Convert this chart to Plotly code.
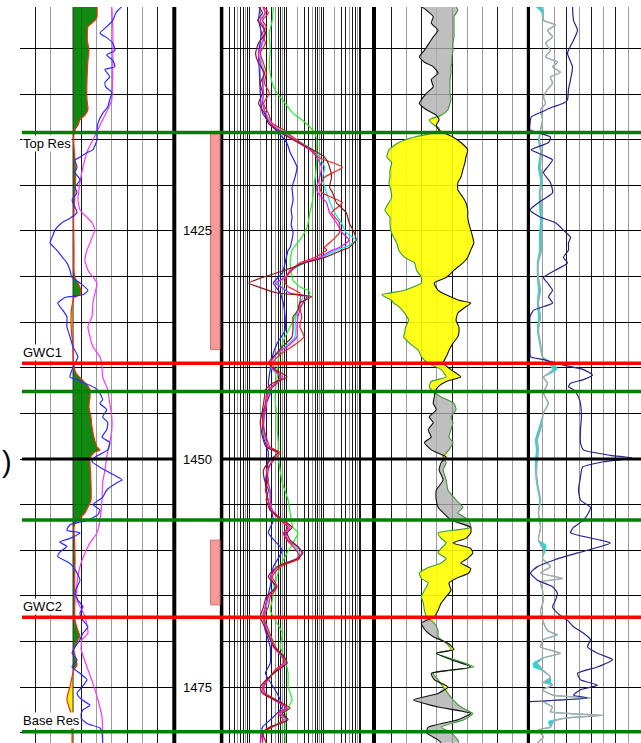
import numpy as np
import plotly.graph_objects as go

W, H = 641, 743
TOP, BASE = 1400.44, 1481.14
GRID_DEPTHS = list(range(1405, 1481, 5))
DEPTH_LABELS = [1425, 1450, 1475]

# formation tops / contacts
MARKER_DEPTH = [1414.2, 1439.5, 1442.6, 1456.7, 1467.35, 1479.9]
MARKER_COLOR = ["#008000", "#ff0000", "#008000", "#008000", "#ff0000", "#008000"]
MARKER_LABEL = ["Top Res", "GWC1", "", "", "GWC2", "Base Res"]
LABEL_BELOW = [True, False, False, False, False, False]

# perforated intervals
PERF_TOP = [1414.35, 1458.9]
PERF_BASE = [1438.0, 1466.0]

# ---------------- track 1 (API) ----------------
VCL_CUTOFF = 52.0
VCL_DEPTH = [1400.4, 1401.5, 1401.9, 1402.2, 1402.6, 1404.1, 1405.2, 1406.3, 1408.4, 1409.5,
             1410.6, 1411.7, 1412.3, 1412.8, 1413.4, 1413.9, 1415.0, 1417.2, 1419.4, 1421.6,
             1423.8, 1427.1, 1429.3, 1430.1, 1430.7, 1431.5, 1432.0, 1432.3, 1432.9, 1433.7,
             1434.8, 1436.2, 1437.0, 1438.1, 1439.1, 1439.9, 1440.6, 1441.3, 1441.9, 1442.4,
             1443.2, 1444.3, 1445.4, 1446.5, 1447.6, 1448.7, 1449.0, 1449.3, 1449.9, 1450.4,
             1452.6, 1454.5, 1455.3, 1455.9, 1456.5, 1456.9, 1457.5, 1458.9, 1461.1, 1463.3,
             1465.5, 1467.3, 1468.2, 1468.8, 1469.5, 1469.8, 1470.9, 1472.0, 1472.6, 1473.1,
             1473.9, 1475.0, 1475.7, 1476.4, 1477.2, 1477.9, 1478.6, 1480.0, 1481.1]
VCL_VALUE = [75.5, 75.5, 73.5, 70.6, 66.6, 66.0, 67.6, 66.6, 65.7, 65.5,
             65.7, 66.6, 63.7, 58.8, 56.8, 53.9, 52.6, 53.9, 54.5, 53.5,
             52.6, 52.9, 52.9, 53.9, 56.8, 59.8, 58.8, 52.9, 51.5, 50.3,
             50.0, 50.5, 51.5, 52.0, 52.4, 52.9, 54.9, 60.8, 65.7, 68.6,
             68.6, 67.6, 69.6, 70.6, 72.5, 75.5, 78.4, 72.5, 68.6, 68.6,
             69.6, 69.6, 66.6, 63.7, 58.8, 54.9, 52.9, 53.5, 54.0, 53.5,
             53.9, 53.5, 55.0, 56.8, 58.8, 56.8, 52.9, 54.9, 55.9, 52.9,
             51.0, 49.0, 47.0, 46.0, 48.0, 50.0, 50.0, 51.0, 51.0]

GR_DEPTH = [1400.4, 1400.8, 1401.1, 1401.9, 1402.6, 1403.3, 1403.8, 1404.4, 1405.2, 1405.7,
            1406.3, 1407.0, 1407.3, 1408.1, 1408.7, 1409.2, 1409.8, 1410.6, 1411.4, 1412.1,
            1413.2, 1413.9, 1415.0, 1416.1, 1416.4, 1416.9, 1417.2, 1418.0, 1418.6, 1419.4,
            1420.2, 1420.8, 1421.6, 1422.4, 1423.0, 1423.6, 1424.1, 1424.9, 1425.7, 1426.3,
            1427.1, 1427.8, 1428.5, 1429.3, 1430.1, 1430.7, 1431.5, 1432.0, 1432.3, 1432.9,
            1433.7, 1434.4, 1435.5, 1436.6, 1437.7, 1438.8, 1439.5, 1440.2, 1441.0, 1441.3,
            1441.7, 1442.2, 1442.8, 1443.5, 1443.9, 1444.6, 1445.4, 1446.0, 1446.8, 1447.6,
            1448.2, 1449.0, 1449.8, 1450.3, 1450.9, 1451.5, 1452.3, 1452.6, 1453.4, 1454.2,
            1455.0, 1455.6, 1456.1, 1456.7, 1457.2, 1457.8, 1458.1, 1458.7, 1459.1, 1459.6,
            1460.2, 1460.7, 1461.3, 1461.8, 1462.5, 1463.3, 1464.0, 1464.7, 1465.5, 1466.2,
            1466.9, 1467.7, 1468.4, 1469.1, 1469.8, 1470.6, 1471.3, 1472.0, 1472.8, 1473.5,
            1474.2, 1475.0, 1475.7, 1476.4, 1477.0, 1477.5, 1478.3, 1479.0, 1479.5, 1480.0,
            1481.1]
GR_VALUE = [100, 96, 94, 91, 85, 78.4, 85, 91, 93, 85,
            91, 93, 83.3, 88, 83.3, 84, 90, 88, 86, 81,
            76.4, 75.5, 75.5, 71.5, 65.7, 58.8, 54, 55.9, 54, 58.8,
            54, 55.9, 51, 54, 55.9, 49, 41, 34.3, 31.4, 29.4,
            36, 41, 46, 49, 51, 58.8, 66.6, 61.7, 44, 37,
            42, 46, 46, 49, 52, 56.8, 54, 51, 49, 55.9,
            63.7, 73.5, 78.4, 81, 78.4, 85, 81, 86, 85, 80.4,
            88, 86, 73.5, 70.6, 78.4, 88, 100, 95, 85, 81,
            71.5, 78.4, 76.4, 66.6, 49, 46, 58.8, 49, 39, 46,
            39, 37, 47, 52, 55.9, 58.8, 55.9, 54, 56.8, 61.7,
            58.8, 61.7, 66.6, 61.7, 58.8, 54, 51, 55.9, 51, 58.8,
            65.7, 60.8, 55.9, 60.8, 68.6, 61.7, 58.8, 65.7, 78.4, 80.4,
            81]

SGR_DEPTH = [1400.4, 1403.0, 1406.3, 1409.5, 1410.6, 1411.7, 1412.8, 1413.9, 1415.0, 1416.1,
             1418.0, 1419.7, 1421.6, 1422.7, 1423.5, 1424.1, 1424.9, 1425.7, 1426.3, 1427.1,
             1428.2, 1429.3, 1430.7, 1431.8, 1432.9, 1434.4, 1435.5, 1436.6, 1437.7, 1438.8,
             1439.9, 1441.0, 1442.4, 1443.9, 1445.4, 1446.8, 1448.2, 1449.8, 1451.2, 1452.6,
             1454.5, 1456.7, 1458.1, 1459.2, 1460.3, 1461.8, 1463.6, 1465.5, 1466.6, 1467.3,
             1469.1, 1469.8, 1470.9, 1472.8, 1474.6, 1476.4, 1478.3, 1480.0, 1481.1]
SGR_VALUE = [90, 91, 91, 90.5, 90, 86, 81, 76.4, 71.5, 66.6,
             61.7, 58.8, 56.8, 58.8, 65.7, 70.6, 73.5, 70.6, 68.6, 65.7,
             63.7, 66.6, 75.5, 73.5, 71.5, 70.6, 66.6, 68.6, 71.5, 78.4,
             80.4, 81, 86, 88, 90, 90, 88, 85, 83.3, 81,
             80.4, 78.4, 75.5, 68.6, 63.7, 58.8, 55.9, 55.9, 60.8, 63.7,
             66.6, 60.8, 60, 65.7, 71.5, 76.4, 80.4, 81, 81]

# ---------------- track 3 (resistivity, ohm.m) ----------------
RES_DEPTH = [1400.4, 1401.1, 1401.9, 1402.6, 1403.3, 1404.4, 1405.5, 1406.6, 1407.7, 1408.8,
             1409.9, 1411.0, 1412.1, 1413.2, 1413.9, 1414.7, 1415.4, 1416.1, 1416.9, 1418.0,
             1419.1, 1420.2, 1420.8, 1421.9, 1423.0, 1424.1, 1425.2, 1426.0, 1426.8, 1427.1,
             1427.9, 1428.5, 1429.3, 1430.1, 1430.7, 1431.1, 1431.8, 1432.2, 1432.9, 1433.7,
             1434.4, 1435.5, 1436.6, 1437.7, 1438.4, 1439.5, 1440.2, 1441.0, 1441.7, 1442.4,
             1443.2, 1444.6, 1446.0, 1447.6, 1448.7, 1449.3, 1450.1, 1451.2, 1452.3, 1453.4,
             1454.5, 1455.6, 1456.7, 1457.5, 1458.1, 1458.9, 1459.6, 1460.3, 1460.9, 1461.8,
             1462.9, 1464.0, 1465.1, 1466.2, 1467.3, 1468.4, 1469.8, 1470.6, 1471.7, 1472.4,
             1473.1, 1474.2, 1475.0, 1475.7, 1476.8, 1477.3, 1477.9, 1478.6, 1479.4, 1480.0,
             1481.1]
RES_MAGENTA = [2.3, 2.75, 2.0, 2.45, 2.75, 2.3, 1.8, 2.0, 2.45, 2.3,
               2.45, 2.3, 2.75, 3.7, 6.1, 12.7, 23, 43, 66, 89,
               79, 66, 70, 121, 145, 222, 320, 490, 267, 174,
               79, 28, 12.7, 9.3, 5.1, 6.9, 12.7, 36, 28, 23,
               20.6, 19.4, 19.4, 10.5, 5.7, 3.7, 4.5, 7.8, 5.7, 3.7,
               3.1, 2.75, 2.45, 2.75, 3.3, 5.7, 4.2, 3.3, 3.1, 3.7,
               3.7, 4.2, 7.8, 12.7, 9.3, 11.2, 19.4, 26, 19.4, 6.1,
               3.7, 5.1, 3.3, 2.75, 2.3, 2.75, 3.7, 4.5, 7.8, 9.3,
               5.7, 3.1, 2.3, 2.45, 6.9, 10.5, 6.9, 10.5, 3.7, 2.3,
               2.0]
RES_RED = [2.45, 3.3, 2.3, 2.9, 2.3, 2.75, 2.0, 2.45, 2.9, 2.6,
           3.5, 2.45, 3.3, 4.2, 8.3, 15, 26, 48, 70, 320,
           107, 79, 89, 320, 164, 267, 267, 174, 107, 121,
           58, 23, 14.3, 10, 9.3, 11.2, 23, 24, 23, 24,
           26, 23, 30, 14, 7.5, 4.2, 5.1, 6.9, 5.1, 3.3,
           2.9, 2.6, 2.3, 2.9, 3.7, 6.9, 4.7, 2.9, 3.3, 2.75,
           3.3, 3.7, 6.9, 11.2, 8.3, 10.5, 15.2, 20.6, 23, 6.9,
           4.2, 5.7, 3.7, 3.3, 2.45, 3.1, 4.2, 5.1, 8.3, 8.3,
           5.1, 3.3, 2.45, 2.75, 7.8, 9.3, 6.1, 8.3, 4.2, 2.45,
           2.3]
RES_BROWN = [1.8, 2.3, 1.7, 2.3, 2.75, 1.8, 1.5, 1.8, 2.6, 2.0,
             2.3, 1.8, 2.6, 3.3, 5.4, 11.2, 23, 51, 107, 145,
             164, 145, 174, 222, 409, 490, 667, 750, 490, 320,
             107, 31.6, 9.3, 2.3, 0.98, 1.7, 5.7, 48, 23, 20.6,
             15.2, 15.2, 14.3, 7.8, 5.5, 3.3, 5.1, 10.5, 4.2, 2.75,
             2.6, 2.3, 2.0, 2.3, 2.9, 6.1, 3.7, 2.45, 2.6, 3.3,
             2.9, 3.7, 8.3, 14.3, 10.5, 12.7, 20.6, 28, 20.6, 5.7,
             3.3, 5.4, 2.9, 2.45, 2.0, 2.6, 3.7, 4.7, 8.8, 10.5,
             6.1, 2.9, 2.0, 2.3, 7.8, 12.7, 7.8, 11.2, 3.7, 2.3,
             2.9]
RES_CYAN = [2.45, 2.6, 2.3, 2.5, 2.6, 2.2, 2.0, 2.2, 2.6, 2.4,
            2.45, 2.3, 2.9, 4.0, 6.9, 14.3, 28, 51, 79, 107,
            95, 107, 120, 150, 200, 300, 409, 750, 362, 222,
            89, 31.6, 14.3, 9.3, 5.7, 7.5, 12, 28, 23, 20,
            18.2, 17.2, 17.2, 9.3, 6, 3.7, 4.2, 6.9, 5.1, 3.3,
            3.0, 2.75, 2.5, 2.6, 3.3, 6.1, 4.2, 3.2, 3.3, 3.5,
            3.7, 4.2, 6.9, 11.2, 9.5, 11.2, 17, 23, 19, 6.1,
            3.8, 4.7, 3.3, 2.9, 2.5, 2.9, 3.9, 4.7, 7.5, 9.3,
            5.7, 3.3, 2.5, 2.6, 7, 10, 7, 9.3, 4, 2.45,
            2.3]

RES_BLUE_DEPTH = [1400.4, 1401.9, 1403.3, 1405.5, 1407.7, 1409.9, 1412.1, 1413.6, 1414.7, 1415.4,
                  1416.4, 1418.0, 1419.1, 1420.2, 1421.6, 1422.7, 1423.5, 1424.3, 1425.2, 1426.8,
                  1427.1, 1428.5, 1429.6, 1430.7, 1431.8, 1432.9, 1434.4, 1435.9, 1437.3, 1438.8,
                  1440.2, 1441.7, 1442.8, 1444.6, 1446.0, 1447.6, 1449.3, 1450.9, 1452.6, 1454.2,
                  1456.7, 1458.1, 1460.0, 1461.8, 1464.0, 1466.2, 1468.4, 1470.6, 1472.4, 1473.5,
                  1475.7, 1477.2, 1478.6, 1479.4, 1481.1]
RES_BLUE = [2.0, 1.8, 2.15, 1.8, 1.9, 2.0, 2.3, 4.5, 7.8, 10.5,
            12.7, 19.4, 17.2, 14.3, 15.2, 13.5, 14.3, 13.5, 15.2, 12.7,
            11.2, 9.3, 7.8, 4.5, 6.9, 8.3, 9.3, 9.3, 5.7, 4.2,
            3.7, 3.3, 3.7, 2.45, 2.3, 2.45, 3.3, 3.1, 2.75, 3.1,
            4.5, 3.3, 7.8, 4.5, 3.7, 2.75, 2.6, 3.7, 3.7, 2.75,
            5.7, 7.8, 3.7, 2.3, 2.0]

RES_GREEN_DEPTH = [1400.4, 1401.9, 1403.3, 1405.2, 1407.0, 1408.8, 1409.9, 1411.0, 1412.1, 1412.8,
                   1413.6, 1414.3, 1415.0, 1416.1, 1417.2, 1418.6, 1420.2, 1421.6, 1423.0, 1424.6,
                   1426.0, 1427.1, 1428.5, 1430.4, 1431.1, 1431.5, 1431.8, 1432.6, 1433.7, 1435.1,
                   1436.6, 1438.1, 1439.1, 1441.0, 1442.4, 1443.9, 1445.4, 1446.8, 1448.2, 1449.8,
                   1452.6, 1454.5, 1455.9, 1457.5, 1458.1, 1459.2, 1460.3, 1461.8, 1463.6, 1465.5,
                   1466.6, 1467.7, 1469.1, 1470.6, 1472.0, 1473.5, 1475.0, 1476.4, 1477.5, 1478.6,
                   1481.1]
RES_GREEN = [4.5, 4.2, 3.5, 3.7, 3.5, 4.2, 5.7, 9.3, 15.2, 26,
             43, 58, 66, 66, 66, 62, 55, 51, 43, 36,
             23, 14.3, 12.7, 15.2, 23, 38, 43, 31.6, 20.6, 14.3,
             9.3, 6.9, 6.1, 5.7, 5.1, 5.1, 5.7, 5.7, 6.1, 6.1,
             7.8, 11.2, 12.7, 15.2, 20.6, 15.2, 10.5, 6.9, 5.1, 4.2,
             3.7, 5.1, 7.8, 6.9, 9.3, 11.2, 11.2, 14.3, 10.5, 9.3,
             9.3]

# ---------------- track 4 (porosity, p.u., 45 .. -15) ----------------
POR_DEPTH = [1400.4, 1400.8, 1401.5, 1402.2, 1403.0, 1403.7, 1404.4, 1405.2, 1405.9, 1406.5,
             1407.0, 1407.7, 1408.4, 1409.2, 1409.9, 1410.6, 1411.0, 1411.7, 1412.3, 1412.8,
             1413.4, 1413.7, 1414.1, 1414.7, 1415.3, 1416.1, 1416.9, 1417.5, 1418.3, 1419.1,
             1419.7, 1420.5, 1421.3, 1421.9, 1422.7, 1423.5, 1424.1, 1424.9, 1425.7, 1426.3,
             1427.1, 1427.9, 1428.5, 1429.3, 1430.1, 1430.7, 1431.5, 1432.0, 1432.6, 1432.9,
             1433.3, 1434.0, 1434.8, 1435.5, 1436.2, 1436.6, 1437.3, 1438.1, 1438.8, 1439.5,
             1440.2, 1441.0, 1441.5, 1442.1, 1442.6, 1443.2, 1443.9, 1444.6, 1445.4, 1446.0,
             1446.8, 1447.6, 1448.2, 1449.0, 1449.8, 1450.4, 1451.2, 1452.3, 1453.4, 1454.5,
             1455.3, 1455.9, 1456.7, 1457.5, 1458.1, 1458.7, 1459.2, 1459.8, 1460.3, 1460.9,
             1461.4, 1462.0, 1462.5, 1463.1, 1463.6, 1464.4, 1465.1, 1465.8, 1466.6, 1467.3,
             1468.0, 1468.8, 1469.5, 1470.2, 1470.9, 1471.3, 1472.0, 1472.8, 1473.5, 1474.2,
             1475.0, 1475.7, 1476.4, 1477.2, 1477.9, 1478.6, 1479.4, 1480.0, 1480.8, 1481.1]
DPHI = [27.1, 25.1, 22.4, 23.2, 20.5, 22.4, 24.0, 25.9, 27.9, 25.9,
        22.4, 20.5, 23.2, 22.4, 25.1, 27.1, 27.9, 25.1, 21.2, 20.1,
        21.2, 20.8, 19.3, 14.6, 11.5, 8.8, 9.5, 9.9, 10.7, 11.5,
        12.7, 12.7, 10.7, 9.5, 8.8, 8.8, 8.4, 7.6, 6.8, 6.4,
        7.6, 8.8, 10.7, 14.2, 17.3, 22.0, 20.5, 17.3, 12.3, 7.6,
        9.5, 12.7, 13.4, 12.3, 12.3, 12.7, 14.6, 16.2, 17.3, 18.5,
        15.4, 11.5, 17.3, 20.5, 21.6, 22.0, 22.4, 21.2, 24.0, 22.4,
        24.4, 23.2, 25.9, 23.2, 17.3, 19.3, 20.1, 18.5, 21.2, 21.2,
        20.5, 18.5, 15.4, 7.6, 7.6, 9.5, 14.6, 7.6, 6.8, 8.8,
        11.5, 7.6, 8.4, 13.4, 16.2, 15.4, 17.3, 19.3, 20.5, 22.0,
        27.1, 25.5, 22.4, 16.6, 14.2, 21.2, 15.4, 7.6, 23.2, 22.0,
        16.6, 20.5, 30.2, 20.5, 7.6, 12.7, 24.4, 25.1, 20.5, 19.3]
NPHI = [13.4, 12.7, 14.2, 14.2, 14.2, 14.2, 14.6, 14.6, 15.0, 15.0,
        15.4, 15.4, 15.8, 15.8, 15.8, 15.4, 15.8, 16.6, 19.3, 24.0,
        22.0, 20.1, 20.5, 29.8, 36.0, 39.9, 40.7, 38.8, 39.5, 39.5,
        39.9, 39.2, 38.8, 39.9, 41.5, 39.5, 39.5, 39.2, 38.0, 36.8,
        36.0, 33.7, 29.8, 29.0, 27.1, 27.1, 33.7, 42.7, 38.8, 38.0,
        36.0, 33.7, 32.1, 33.3, 33.7, 34.1, 31.8, 28.2, 27.1, 24.4,
        19.3, 17.3, 23.2, 24.0, 22.4, 19.3, 14.2, 13.4, 15.4, 14.6,
        15.4, 16.2, 14.6, 16.2, 18.5, 17.3, 18.5, 17.3, 16.6, 13.4,
        10.7, 12.7, 8.4, 7.6, 20.5, 19.3, 17.3, 19.3, 20.5, 17.3,
        19.3, 25.1, 27.9, 27.1, 24.4, 25.9, 27.1, 26.3, 25.9, 25.1,
        22.0, 20.5, 20.5, 17.3, 15.4, 21.2, 14.2, 6.4, 22.4, 20.5,
        18.5, 16.6, 14.6, 11.5, 6.8, 10.3, 19.3, 15.4, 12.7, 12.3]

# ---------------- track 5 ----------------
PE_DEPTH = [1400.4, 1401.0, 1401.9, 1402.4, 1403.0, 1403.7, 1404.4, 1405.2, 1405.9, 1406.5,
            1407.0, 1407.6, 1408.1, 1408.8, 1409.5, 1410.3, 1411.0, 1411.7, 1412.8, 1413.9,
            1415.0, 1416.4, 1418.0, 1419.4, 1420.8, 1422.4, 1423.8, 1425.2, 1427.1, 1428.5,
            1430.1, 1431.5, 1432.9, 1434.4, 1435.9, 1437.3, 1438.8, 1439.7, 1440.2, 1440.6,
            1441.0, 1441.7, 1442.8, 1443.9, 1444.9, 1445.7, 1446.8, 1447.9, 1449.0, 1450.1,
            1451.2, 1452.6, 1454.5, 1455.9, 1457.5, 1458.9, 1459.4, 1460.0, 1460.9, 1461.8,
            1462.5, 1463.1, 1463.5, 1464.4, 1465.5, 1466.6, 1467.6, 1468.8, 1469.3, 1469.8,
            1470.6, 1471.3, 1471.8, 1472.4, 1472.8, 1473.1, 1473.9, 1474.5, 1474.8, 1475.3,
            1475.9, 1476.2, 1476.6, 1477.2, 1477.7, 1478.1, 1478.4, 1478.8, 1479.4, 1479.7,
            1480.5, 1481.1]
PE_GREY = [1.02, 1.10, 1.10, 2.08, 1.43, 1.84, 1.27, 1.67, 1.27, 2.24,
           1.84, 2.49, 1.67, 1.84, 1.43, 1.10, 1.27, 0.86, 1.02, 0.86,
           0.78, 0.94, 0.86, 1.02, 0.86, 0.94, 1.02, 0.94, 0.94, 0.69,
           0.69, 0.86, 0.69, 0.86, 0.69, 0.86, 1.02, 1.67, 1.84, 1.51,
           1.10, 1.43, 1.10, 1.51, 1.10, 1.02, 0.86, 0.61, 0.69, 0.61,
           0.53, 0.61, 0.86, 0.69, 0.86, 0.69, 0.86, 1.10, 1.02, 1.67,
           0.86, 2.65, 0.86, 1.02, 1.10, 0.86, 1.02, 1.43, 2.24, 1.10,
           0.86, 2.49, 1.10, 0.61, 0.86, 1.02, 1.67, 1.10, 1.84, 1.02,
           1.92, 4.94, 1.10, 1.84, 1.67, 5.92, 2.90, 1.92, 1.67, 0.69,
           1.10, 0.61]
PE_CYAN = [0.50, 0.95, 1.10, 2.08, 1.43, 1.84, 1.27, 1.67, 1.27, 2.24,
           1.84, 2.49, 1.67, 1.84, 1.43, 1.10, 1.27, 0.86, 1.02, 0.86,
           0.69, 0.86, 0.69, 0.86, 0.78, 0.78, 0.86, 0.78, 0.78, 0.61,
           0.61, 0.69, 0.61, 0.69, 0.61, 0.78, 1.02, 2.08, 2.16, 1.67,
           1.10, 1.43, 1.10, 1.51, 1.10, 0.94, 0.69, 0.45, 0.53, 0.45,
           0.45, 0.53, 0.78, 0.69, 0.86, 0.69, 1.27, 1.27, 1.02, 1.67,
           0.86, 2.65, 0.86, 1.02, 1.10, 0.86, 1.02, 1.43, 2.08, 1.10,
           0.86, 2.49, 1.10, 0.29, 0.29, 0.86, 1.67, 1.67, 1.84, 1.02,
           1.92, 4.94, 1.10, 1.84, 1.67, 5.92, 2.90, 1.51, 1.67, 0.69,
           1.10, 0.61]

NAVY_DEPTH = [1400.4, 1401.9, 1403.0, 1404.1, 1405.5, 1407.0, 1408.4, 1409.5, 1410.6, 1411.0,
              1411.4, 1412.0, 1412.5, 1413.2, 1413.9, 1414.2, 1414.7, 1415.3, 1416.1, 1416.7,
              1417.2, 1418.0, 1418.6, 1419.7, 1420.8, 1421.9, 1422.7, 1423.5, 1424.1, 1424.9,
              1425.7, 1426.3, 1427.1, 1427.9, 1428.5, 1429.3, 1430.1, 1430.7, 1431.5, 1432.2,
              1432.9, 1433.7, 1434.4, 1436.2, 1438.1, 1438.8, 1439.1, 1439.7, 1440.2, 1440.8,
              1441.3, 1441.7, 1442.1, 1442.4, 1443.2, 1443.9, 1445.4, 1446.8, 1448.2, 1449.0,
              1449.6, 1449.9, 1450.3, 1450.9, 1452.0, 1453.4, 1454.5, 1455.3, 1455.9, 1456.7,
              1457.5, 1458.1, 1458.9, 1459.2, 1459.6, 1460.3, 1461.1, 1461.8, 1462.5, 1463.3,
              1464.0, 1464.7, 1465.5, 1466.2, 1466.9, 1467.7, 1468.4, 1469.1, 1469.8, 1470.6,
              1471.3, 1472.0, 1472.8, 1473.5, 1474.2, 1474.8, 1475.3, 1475.9, 1476.2, 1476.6]
NAVY_VALUE = [3.47, 3.55, 3.88, 3.55, 3.06, 3.47, 3.31, 3.14, 3.06, 2.73,
              1.84, 0.86, 0.10, 0.00, 0.00, 0.61, 1.67, 1.51, 0.10, 1.10,
              1.84, 1.43, 1.10, 1.67, 1.84, 0.69, 0.00, 0.86, 2.08, 2.73,
              3.31, 3.14, 3.14, 2.73, 3.06, 2.08, 1.10, 1.43, 1.84, 1.51,
              1.84, 0.29, 0.00, 0.00, 0.00, 0.04, 1.10, 2.73, 4.37, 5.10,
              4.37, 3.31, 3.14, 3.55, 3.96, 4.12, 4.20, 4.12, 4.12, 4.37,
              6.57, 8.37, 6.00, 4.29, 4.12, 3.96, 4.12, 4.94, 4.78, 4.37,
              3.55, 3.31, 5.76, 6.57, 5.76, 3.88, 1.92, 0.61, 0.04, 0.61,
              1.84, 2.24, 2.08, 1.84, 2.24, 3.06, 3.55, 4.37, 4.94, 4.69,
              5.51, 6.73, 5.51, 3.88, 4.12, 5.51, 4.12, 3.55, 4.69, 0.00]

# ---------------- figure ----------------
FONT = "Arial, 'Liberation Sans', sans-serif"
CLEAR = "rgba(0,0,0,0)"
fig = go.Figure()


def curve(x, y, color, width, xa, ya, **kw):
    return go.Scatter(x=x, y=y, xaxis=xa, yaxis=ya, mode="lines",
                      line=dict(color=color, width=width, shape="spline", smoothing=0.5),
                      hoverinfo="skip", showlegend=False, **kw)


def band(base, edge, depth, color, xa, ya):
    fig.add_trace(curve(base, depth, CLEAR, 0, xa, ya))
    fig.add_trace(curve(edge, depth, CLEAR, 0, xa, ya, fill="tonextx", fillcolor=color))


# track 1: shale indicator with cutoff shading, plus two gamma curves
vcl = np.array(VCL_VALUE)
cut = np.full(vcl.shape, VCL_CUTOFF)
band(cut, np.maximum(vcl, cut), VCL_DEPTH, "rgba(0,128,0,0.93)", "x", "y")
band(cut, np.minimum(vcl, cut), VCL_DEPTH, "rgba(255,235,0,0.95)", "x", "y")
fig.add_trace(curve([VCL_CUTOFF, VCL_CUTOFF], [TOP, BASE], "#303030", 1, "x", "y"))
fig.add_trace(curve(VCL_VALUE, VCL_DEPTH, "#ff2a00", 1.2, "x", "y"))
fig.add_trace(curve(SGR_VALUE, SGR_DEPTH, "#ff33ff", 1.2, "x", "y"))
fig.add_trace(curve(GR_VALUE, GR_DEPTH, "#2a2aff", 1.2, "x", "y"))

# track 3: resistivity family
fig.add_trace(curve(RES_GREEN, RES_GREEN_DEPTH, "#22ee22", 1.2, "x2", "y2"))
fig.add_trace(curve(RES_BLUE, RES_BLUE_DEPTH, "#2222ff", 1.2, "x2", "y2"))
fig.add_trace(curve(RES_CYAN, RES_DEPTH, "#00e8e8", 1.2, "x2", "y2"))
fig.add_trace(curve(RES_MAGENTA, RES_DEPTH, "#ff00ff", 1.2, "x2", "y2"))
fig.add_trace(curve(RES_RED, RES_DEPTH, "#ff1a1a", 1.2, "x2", "y2"))
fig.add_trace(curve(RES_BROWN, RES_DEPTH, "#8b1a1a", 1.2, "x2", "y2"))

# track 4: density / neutron crossover shading
dphi = np.array(DPHI)
nphi = np.array(NPHI)
band(nphi, np.maximum(dphi, nphi), POR_DEPTH, "rgba(175,175,175,0.8)", "x3", "y3")
band(nphi, np.minimum(dphi, nphi), POR_DEPTH, "rgba(255,255,0,0.9)", "x3", "y3")
fig.add_trace(curve(NPHI, POR_DEPTH, "#3a9a3a", 1.1, "x3", "y3"))
fig.add_trace(curve(DPHI, POR_DEPTH, "#111111", 1.1, "x3", "y3"))

# track 5
fig.add_trace(curve(PE_GREY, PE_DEPTH, CLEAR, 0, "x4", "y4"))
fig.add_trace(curve(PE_CYAN, PE_DEPTH, "#2ad4d4", 1.1, "x4", "y4", fill="tonextx", fillcolor="#2ad4d4"))
fig.add_trace(curve(PE_GREY, PE_DEPTH, "#aaaaaa", 1.4, "x4", "y4"))
fig.add_trace(curve(NAVY_VALUE, NAVY_DEPTH, "#23238f", 1.2, "x4", "y4"))


def x_axis(left, right, rng, dark, light, anchor, kind="linear"):
    ax = dict(domain=[left / W, right / W], range=rng, type=kind, anchor=anchor,
              tickmode="array", tickvals=dark, showticklabels=False, ticks="",
              showgrid=True, gridcolor="#1a1a1a", gridwidth=1, zeroline=False,
              showline=False, fixedrange=True)
    if light:
        ax["minor"] = dict(tickmode="array", tickvals=light, showgrid=True,
                           gridcolor="#9a9a9a", gridwidth=1, ticks="")
    return ax


def y_axis(anchor):
    return dict(domain=[0, 1 - 7 / H], range=[BASE, TOP], anchor=anchor,
                tickmode="array", tickvals=GRID_DEPTHS, showticklabels=False, ticks="",
                showgrid=True, gridcolor="#000000", gridwidth=1, zeroline=False,
                showline=False, fixedrange=True)


log_all = [m * 10.0 ** e for e in range(-1, 4) for m in range(1, 10)]
log_dark = [v for v in log_all if 0.2 < v < 2000 and round(v / 10 ** np.floor(np.log10(v))) not in (2, 5, 8)]
log_light = [v for v in log_all if 0.2 < v < 2000 and round(v / 10 ** np.floor(np.log10(v))) in (2, 5, 8)]

shapes = []
for xc, w in [(174.3, 4), (221.6, 3.5), (374, 4), (528.4, 3.2)]:
    shapes.append(dict(type="line", xref="paper", yref="paper", x0=xc / W, x1=xc / W,
                       y0=0, y1=1 - 7 / H, line=dict(color="black", width=w), layer="above"))
for x0, x1 in [(22, 174), (222, W)]:
    shapes.append(dict(type="line", xref="paper", yref="y", x0=x0 / W, x1=x1 / W,
                       y0=1450, y1=1450, line=dict(color="black", width=3)))
for top, base in zip(PERF_TOP, PERF_BASE):
    shapes.append(dict(type="rect", xref="paper", yref="y", x0=210.5 / W, x1=220 / W,
                       y0=top, y1=base, fillcolor="#f49a98", line=dict(color="#d87474", width=1)))
for d, c in zip(MARKER_DEPTH, MARKER_COLOR):
    shapes.append(dict(type="line", xref="paper", yref="y", x0=22 / W, x1=1, y0=d, y1=d,
                       line=dict(color=c, width=3.5), layer="above"))

annotations = []
for d in DEPTH_LABELS:
    annotations.append(dict(x=197.5 / W, xref="paper", xanchor="center", y=d, yref="y",
                            yanchor="middle", text=str(d), showarrow=False,
                            font=dict(family=FONT, size=13, color="black")))
for name, d, below in zip(MARKER_LABEL, MARKER_DEPTH, LABEL_BELOW):
    if not name:
        continue
    annotations.append(dict(x=22 / W, xref="paper", xanchor="left", y=d, yref="y",
                            yanchor="middle", yshift=-11 if below else 11, text=name,
                            showarrow=False, bgcolor="white", borderpad=0,
                            font=dict(family=FONT, size=13, color="black")))
annotations.append(dict(x=0, xref="paper", xanchor="left", y=1 - 462 / H, yref="paper",
                        yanchor="middle", text=")", showarrow=False,
                        font=dict(family=FONT, size=29, color="black")))

fig.update_layout(
    width=W, height=H, margin=dict(l=0, r=0, t=0, b=0),
    paper_bgcolor="white", plot_bgcolor="white", showlegend=False,
    xaxis=x_axis(20, 173, [0, 150], [15, 60, 105, 135], [30, 75, 90, 120], "y"),
    xaxis2=x_axis(223, 372, [np.log10(0.2), np.log10(2000)], log_dark, log_light, "y2", "log"),
    xaxis3=x_axis(376, 528, [45, -15], [39, 27, 15, -3], [33, 21, 9, 3, -9], "y3"),
    xaxis4=x_axis(530, W, [0, (W - 530) / 12.25], [3, 5, 7], [1, 2, 4, 6, 8, 9], "y4"),
    yaxis=y_axis("x"), yaxis2=y_axis("x2"), yaxis3=y_axis("x3"), yaxis4=y_axis("x4"),
    shapes=shapes, annotations=annotations,
)

fig.write_html("out.html")
